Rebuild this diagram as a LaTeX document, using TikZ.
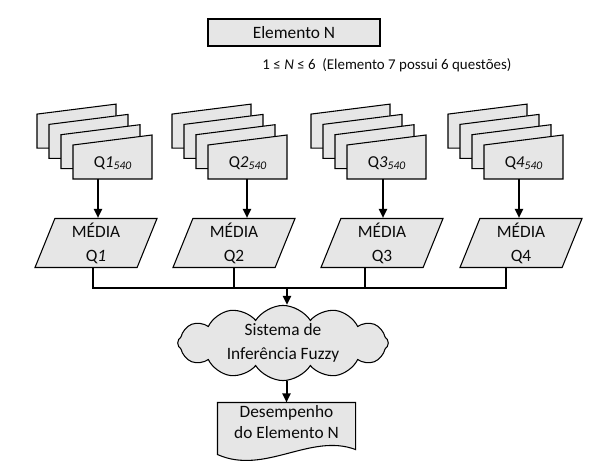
\documentclass[tikz,border=0pt]{standalone}
\usepackage{fontspec}
\setmainfont{Carlito}
\usepackage{tikz}
\usetikzlibrary{arrows.meta,positioning,calc,backgrounds,shapes.geometric,shapes.symbols}
\definecolor{ink}{HTML}{0A0A0A}
\definecolor{paper}{HTML}{E6E6E6}
\tikzset{box/.style={draw=black,fill=paper,line width=0.8pt,align=center,font=\fontsize{13}{17.5}\selectfont,text=ink,inner sep=0pt},sheetbox/.style={draw=black,fill=paper,line width=0.8pt},media/.style={box,font=\fontsize{13}{18}\selectfont,trapezium,trapezium left angle=64,trapezium right angle=116,trapezium stretches body,minimum width=91.5pt,minimum height=36.75pt},wire/.style={line width=1.5pt,draw=black},arr/.style={wire,-{Triangle[length=6.75pt,width=6pt]}}}
\begin{document}
\begin{tikzpicture}[x=0.75pt,y=-0.75pt]
\useasboundingbox (0,0) rectangle (611,474);
\node[box,minimum width=129pt,minimum height=20.25pt] (elem) at (294,32.5) {Elemento N};
\node[font=\fontsize{11.2}{14}\selectfont,text=ink] (faixa) at (387,65) {1 ≤ \textit{N} ≤ 6~~(Elemento 7 possui 6 questões)};
\foreach \x/\n/\ax in {73/1/98,208/2/247,347/3/383,484/4/519}{
  \foreach \k in {3,2,1,0}
    \draw[sheetbox] (\x-12*\k,145-10.3*\k) -- ++(79,-10) -- ++(0,44) -- ++(-79,0) -- cycle;
  \node[font=\fontsize{12.5}{15}\selectfont,text=ink] (q\n) at (\x+40,163) {Q\textit{\n}\textsubscript{\textit{540}}};
  \coordinate (s\n) at (\ax,179);
}
\node[media] (m1) at (96,243) {MÉDIA\\Q\textit{1}};
\node[media] (m2) at (234,243) {MÉDIA\\Q2};
\node[media] (m3) at (382,243) {MÉDIA\\Q3};
\node[media] (m4) at (521,243) {MÉDIA\\Q4};
\foreach \n in {1,...,4} \draw[arr] (s\n) -- (s\n |- m\n.north);
\node[box,cloud,cloud puffs=12,cloud puff arc=115,aspect=3,minimum width=158pt,minimum height=50pt] (fuzzy) at (283,343) {Sistema de\\Inferência Fuzzy};
\node[box,draw=none,fill=none,font=\fontsize{13}{16}\selectfont,minimum width=102.75pt,minimum height=39pt] (desemp) at (286.5,429) {Desempenho\\do Elemento N\\[-5pt]};
\begin{scope}[on background layer]
\draw[sheetbox] (desemp.north west) -- (desemp.north east) -- ($(desemp.south east)+(0,-6)$) .. controls ($(desemp.south east)+(-45,-23)$) and ($(desemp.south west)+(47,20)$) .. ($(desemp.south west)+(0,-1)$) -- cycle;
\end{scope}
\coordinate (bus) at (287,288);
\coordinate (m3b) at ($(m3.south)+(-17,0)$);
\coordinate (m4b) at ($(m4.south)+(-15,0)$);
\draw[wire] ($(m1.south)+(-3,0)$) |- (bus) -| (m4b);
\draw[wire] (m2.south) -- (m2.south |- bus);
\draw[wire] (m3b) -- (m3b |- bus);
\draw[arr] (bus) -- (bus |- fuzzy.north);
\draw[arr] (desemp.north |- fuzzy.south) -- (desemp.north);
\end{tikzpicture}
\end{document}
